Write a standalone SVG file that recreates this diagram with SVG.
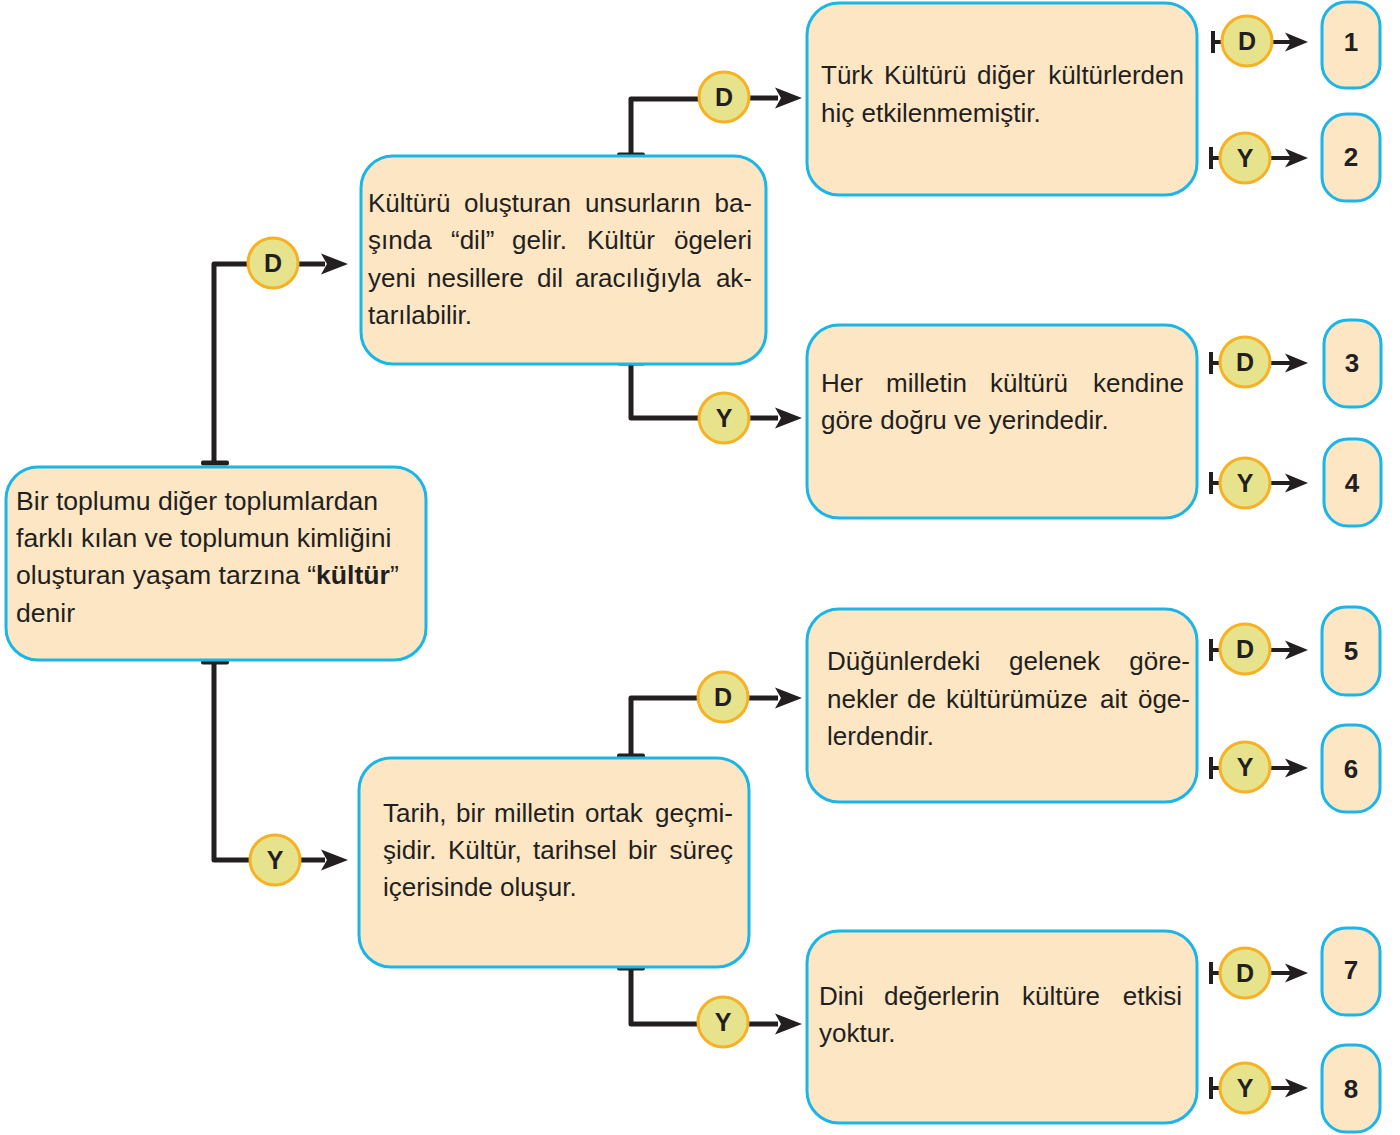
<svg xmlns="http://www.w3.org/2000/svg" xmlns:xlink="http://www.w3.org/1999/xlink" width="1400" height="1135" viewBox="0 0 1400 1135">
<style>
.box{fill:#fde6c4;stroke:#1cb5e8;stroke-width:3}
.t{font-family:"Liberation Sans",Arial,sans-serif;font-size:26px;fill:#231f20}
.e{text-anchor:end}
.c{fill:#e6e38c;stroke:#f7b124;stroke-width:3}
.lbl{font-family:"Liberation Sans",Arial,sans-serif;font-size:25px;font-weight:bold;fill:#231f20;text-anchor:middle}
.num{font-family:"Liberation Sans",Arial,sans-serif;font-size:26px;font-weight:bold;fill:#231f20;text-anchor:middle}
.ln{fill:none;stroke:#231f20;stroke-width:5;stroke-linejoin:round}
.sl{fill:none;stroke:#231f20;stroke-width:4}
.ink{fill:#231f20}
</style>
<defs>
<path id="ah" d="M0,0 L-27,-10.5 L-21,0 L-27,10.5 Z" fill="#231f20"/>
<path id="ahs" d="M0,0 L-23,-9.5 L-17,0 L-23,9.5 Z" fill="#231f20"/>
<rect id="tb" x="-14" y="-2.5" width="28" height="5" rx="2" fill="#231f20"/>
<rect id="tv" x="-2" y="-11" width="4" height="22" fill="#231f20"/>
</defs>

<g id="connectors">
  <!-- root to B -->
  <path class="ln" d="M214,463 V264 H250"/>
  <use xlink:href="#tb" x="215" y="463"/>
  <path class="ln" d="M296,264 H325"/>
  <use xlink:href="#ah" x="348" y="264"/>
  <!-- root to C -->
  <path class="ln" d="M214,662 V860 H252"/>
  <use xlink:href="#tb" x="215" y="662"/>
  <path class="ln" d="M298,860 H325"/>
  <use xlink:href="#ah" x="348" y="860"/>
  <!-- B to box1 -->
  <path class="ln" d="M631,155 V99 H700"/>
  <use xlink:href="#tb" x="631" y="155"/>
  <path class="ln" d="M748,98 H778"/>
  <use xlink:href="#ah" x="802" y="98"/>
  <!-- B to box2 -->
  <path class="ln" d="M631,363 V418 H700"/>
  <use xlink:href="#tb" x="631" y="363"/>
  <path class="ln" d="M748,418 H778"/>
  <use xlink:href="#ah" x="802" y="418"/>
  <!-- C to box3 -->
  <path class="ln" d="M631,756 V698 H700"/>
  <use xlink:href="#tb" x="631" y="756"/>
  <path class="ln" d="M747,698 H778"/>
  <use xlink:href="#ah" x="802" y="698"/>
  <!-- C to box4 -->
  <path class="ln" d="M631,968 V1024 H700"/>
  <use xlink:href="#tb" x="631" y="968"/>
  <path class="ln" d="M747,1024 H778"/>
  <use xlink:href="#ah" x="802" y="1024"/>

  <!-- right side small connectors -->
  <g id="r1"><use xlink:href="#tv" x="1213" y="42"/><path class="sl" d="M1213,42 H1224 M1271,42 H1292"/><use xlink:href="#ahs" x="1308" y="42"/></g>
  <g id="r2"><use xlink:href="#tv" x="1211" y="158"/><path class="sl" d="M1211,158 H1222 M1269,158 H1292"/><use xlink:href="#ahs" x="1308" y="158"/></g>
  <g id="r3"><use xlink:href="#tv" x="1211" y="363"/><path class="sl" d="M1211,363 H1222 M1269,363 H1292"/><use xlink:href="#ahs" x="1308" y="363"/></g>
  <g id="r4"><use xlink:href="#tv" x="1211" y="483"/><path class="sl" d="M1211,483 H1222 M1269,483 H1292"/><use xlink:href="#ahs" x="1308" y="483"/></g>
  <g id="r5"><use xlink:href="#tv" x="1211" y="650"/><path class="sl" d="M1211,650 H1222 M1269,650 H1292"/><use xlink:href="#ahs" x="1308" y="650"/></g>
  <g id="r6"><use xlink:href="#tv" x="1211" y="768"/><path class="sl" d="M1211,768 H1222 M1269,768 H1292"/><use xlink:href="#ahs" x="1308" y="768"/></g>
  <g id="r7"><use xlink:href="#tv" x="1211" y="973"/><path class="sl" d="M1211,973 H1222 M1269,973 H1292"/><use xlink:href="#ahs" x="1308" y="973"/></g>
  <g id="r8"><use xlink:href="#tv" x="1211" y="1088"/><path class="sl" d="M1211,1088 H1222 M1269,1088 H1292"/><use xlink:href="#ahs" x="1308" y="1088"/></g>

  <!-- D / Y labels -->
  <g id="labels">
    <circle class="c" cx="273" cy="263" r="25"/><text class="lbl" x="273" y="272">D</text>
    <circle class="c" cx="275" cy="860" r="25"/><text class="lbl" x="275" y="869">Y</text>
    <circle class="c" cx="724" cy="97" r="25"/><text class="lbl" x="724" y="106">D</text>
    <circle class="c" cx="724" cy="418" r="25"/><text class="lbl" x="724" y="427">Y</text>
    <circle class="c" cx="723" cy="697" r="25"/><text class="lbl" x="723" y="706">D</text>
    <circle class="c" cx="723" cy="1022" r="25"/><text class="lbl" x="723" y="1031">Y</text>
    <circle class="c" cx="1247" cy="41" r="25"/><text class="lbl" x="1247" y="50">D</text>
    <circle class="c" cx="1245" cy="158" r="25"/><text class="lbl" x="1245" y="167">Y</text>
    <circle class="c" cx="1245" cy="362" r="25"/><text class="lbl" x="1245" y="371">D</text>
    <circle class="c" cx="1245" cy="483" r="25"/><text class="lbl" x="1245" y="492">Y</text>
    <circle class="c" cx="1245" cy="649" r="25"/><text class="lbl" x="1245" y="658">D</text>
    <circle class="c" cx="1245" cy="767" r="25"/><text class="lbl" x="1245" y="776">Y</text>
    <circle class="c" cx="1245" cy="973" r="25"/><text class="lbl" x="1245" y="982">D</text>
    <circle class="c" cx="1245" cy="1088" r="25"/><text class="lbl" x="1245" y="1097">Y</text>
  </g>
</g>

<g id="root">
  <rect class="box" x="6" y="467" width="420" height="193" rx="32"/>
  <text class="t" style="font-size:26.6px" x="16" y="510">Bir toplumu diğer toplumlardan</text>
  <text class="t" style="font-size:26.6px" x="16" y="547">farklı kılan ve toplumun kimliğini</text>
  <text class="t" style="font-size:26.6px" x="16" y="584">oluşturan yaşam tarzına “<tspan font-weight="bold">kültür</tspan>”</text>
  <text class="t" style="font-size:26.6px" x="16" y="622">denir</text>
</g>

<g id="nodeB">
  <rect class="box" x="361" y="156" width="405" height="208" rx="32"/>
  <text class="t" y="212"><tspan x="368">Kültürü</tspan><tspan x="464">oluşturan</tspan><tspan x="585">unsurların</tspan></text>
  <text class="t e" x="752" y="212">ba-</text>
  <text class="t" y="249"><tspan x="368">şında</tspan><tspan x="451">“dil”</tspan><tspan x="512">gelir.</tspan><tspan x="587">Kültür</tspan></text>
  <text class="t e" x="752" y="249">ögeleri</text>
  <text class="t" y="287"><tspan x="368">yeni</tspan><tspan x="427">nesillere</tspan><tspan x="537">dil</tspan><tspan x="575">aracılığıyla</tspan></text>
  <text class="t e" x="752" y="287">ak-</text>
  <text class="t" x="368" y="324">tarılabilir.</text>
</g>

<g id="nodeC">
  <rect class="box" x="359" y="758" width="390" height="209" rx="32"/>
  <text class="t" y="822"><tspan x="383">Tarih,</tspan><tspan x="456">bir</tspan><tspan x="494">milletin</tspan><tspan x="585">ortak</tspan></text>
  <text class="t e" x="733" y="822">geçmi-</text>
  <text class="t" y="859"><tspan x="383">şidir.</tspan><tspan x="448">Kültür,</tspan><tspan x="533">tarihsel</tspan><tspan x="628">bir</tspan></text>
  <text class="t e" x="733" y="859">süreç</text>
  <text class="t" x="383" y="896">içerisinde oluşur.</text>
</g>

<g id="node1">
  <rect class="box" x="807" y="3" width="390" height="192" rx="32"/>
  <text class="t" y="84"><tspan x="821">Türk</tspan><tspan x="884">Kültürü</tspan><tspan x="977">diğer</tspan></text>
  <text class="t e" x="1184" y="84">kültürlerden</text>
  <text class="t" x="821" y="122">hiç etkilenmemiştir.</text>
</g>

<g id="node2">
  <rect class="box" x="807" y="325" width="390" height="193" rx="32"/>
  <text class="t" y="392"><tspan x="821">Her</tspan><tspan x="886">milletin</tspan><tspan x="990">kültürü</tspan></text>
  <text class="t e" x="1184" y="392">kendine</text>
  <text class="t" x="821" y="429">göre doğru ve yerindedir.</text>
</g>

<g id="node3">
  <rect class="box" x="807" y="609" width="390" height="193" rx="32"/>
  <text class="t" y="670"><tspan x="827">Düğünlerdeki</tspan><tspan x="1009">gelenek</tspan></text>
  <text class="t e" x="1190" y="670">göre-</text>
  <text class="t" y="708"><tspan x="827">nekler</tspan><tspan x="907">de</tspan><tspan x="946">kültürümüze</tspan><tspan x="1100">ait</tspan></text>
  <text class="t e" x="1190" y="708">öge-</text>
  <text class="t" x="827" y="745">lerdendir.</text>
</g>

<g id="node4">
  <rect class="box" x="807" y="931" width="390" height="192" rx="32"/>
  <text class="t" y="1005"><tspan x="819">Dini</tspan><tspan x="884">değerlerin</tspan><tspan x="1022">kültüre</tspan></text>
  <text class="t e" x="1182" y="1005">etkisi</text>
  <text class="t" x="819" y="1042">yoktur.</text>
</g>

<g id="num1"><rect class="box" x="1322" y="2" width="58" height="86" rx="24"/><text class="num" x="1351" y="51">1</text></g>
<g id="num2"><rect class="box" x="1322" y="114" width="58" height="87" rx="24"/><text class="num" x="1351" y="166">2</text></g>
<g id="num3"><rect class="box" x="1324" y="320" width="57" height="87" rx="24"/><text class="num" x="1352" y="372">3</text></g>
<g id="num4"><rect class="box" x="1324" y="439" width="57" height="87" rx="24"/><text class="num" x="1352" y="492">4</text></g>
<g id="num5"><rect class="box" x="1322" y="607" width="58" height="88" rx="24"/><text class="num" x="1351" y="660">5</text></g>
<g id="num6"><rect class="box" x="1322" y="725" width="58" height="87" rx="24"/><text class="num" x="1351" y="778">6</text></g>
<g id="num7"><rect class="box" x="1322" y="928" width="58" height="87" rx="24"/><text class="num" x="1351" y="979">7</text></g>
<g id="num8"><rect class="box" x="1322" y="1045" width="58" height="87" rx="24"/><text class="num" x="1351" y="1098">8</text></g>
</svg>
